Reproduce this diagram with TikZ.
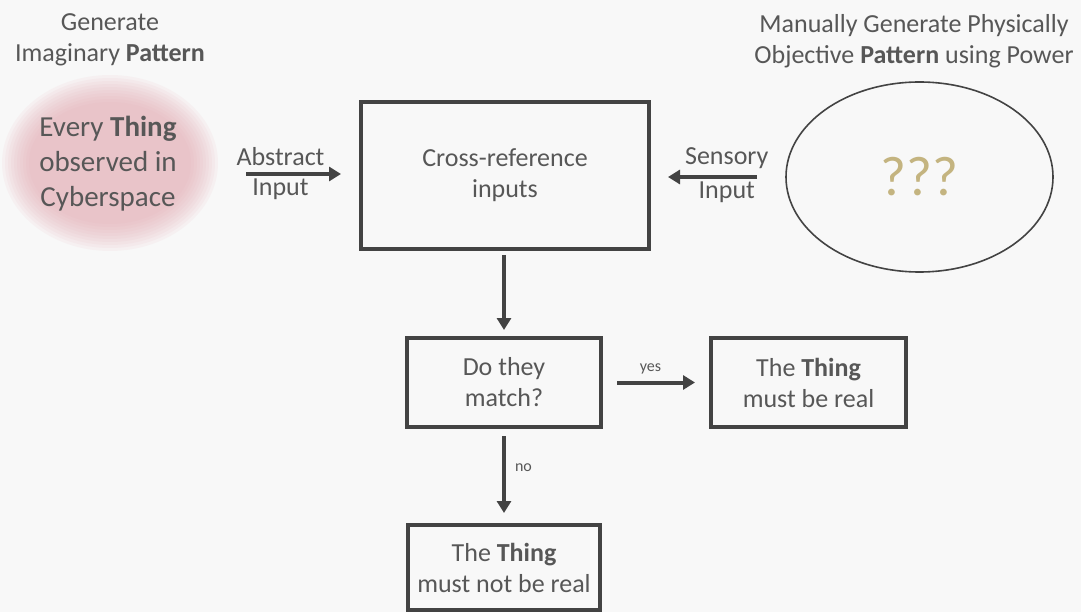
\documentclass[tikz,border=0pt]{standalone}
\usepackage{fontspec}
\setmainfont{Carlito}
\usetikzlibrary{arrows.meta,shapes.geometric}
\definecolor{txt}{HTML}{575757}
\definecolor{boxline}{HTML}{434343}
\definecolor{blobpink}{RGB}{228,168,176}
\definecolor{qcol}{RGB}{196,180,128}
\definecolor{bg}{RGB}{248,248,248}
\begin{document}
\begin{tikzpicture}[x=1pt,y=-1pt,
  every node/.style={text=txt, font=\fontsize{26}{31}\selectfont, inner sep=0pt, outer sep=0pt},
  flowbox/.style={draw=boxline, line width=3.5pt, align=center},
  arr/.style={draw=boxline, line width=4pt, -{Triangle[length=12pt,width=14pt]}},
  smalllabel/.style={font=\fontsize{16}{18}\selectfont}]
\fill[bg] (0,0) rectangle (1081,612);
\useasboundingbox (0,0) rectangle (1081,612);

% pink blob
\foreach \k in {0,...,9}
  \fill[blobpink, opacity=0.09] (110,163) ellipse [x radius={108pt-3pt*\k}, y radius={88pt-3pt*\k}];
\node[font=\fontsize{29}{35}\selectfont, align=center] (blob) at (108,164)
  {Every \textbf{Thing}\\observed in\\Cyberspace};

% titles
\node[align=center, anchor=north] (lefttitle) at (110,14) {Generate\\Imaginary \textbf{Pattern}};
\node[align=center, anchor=north] (righttitle) at (914,14) {Manually Generate Physically\\Objective \textbf{Pattern} using Power};

% ellipse
\node[ellipse, draw=boxline, line width=1.6pt, minimum width=267pt, minimum height=190pt,
      text=qcol, font=\fontsize{56}{60}\selectfont] (ell) at (919.5,177) {???};

% boxes
\node[flowbox, minimum width=288pt, minimum height=147pt] (crossbox) at (505,175.5) {Cross-reference\\inputs};
\node[flowbox, minimum width=194pt, minimum height=89pt] (matchbox) at (504,382.5) {Do they\\match?};
\node[flowbox, minimum width=195pt, minimum height=89pt] (realbox) at (808.5,382.5) {The \textbf{Thing}\\must be real};
\node[flowbox, minimum width=192pt, minimum height=85pt] (notbox) at (504,567.5) {The \textbf{Thing}\\must not be real};

% connectors
\coordinate (absStart) at (246,174);
\draw[arr, shorten >=20pt] (absStart) -- node[pos=0.30, above=8pt]{Abstract} node[pos=0.30, below=5pt]{Input} (absStart -| crossbox.west);
\coordinate (sensStart) at (757,177);
\draw[arr, shorten >=19pt] (sensStart) -- node[pos=0.28, above=8pt]{Sensory} node[pos=0.28, below=5pt]{Input} (sensStart -| crossbox.east);
\draw[arr, shorten <=6pt, shorten >=8pt] (matchbox.north |- crossbox.south) -- (matchbox.north);
\draw[arr, shorten <=16pt, shorten >=16pt] (matchbox.east) -- node[pos=0.45, above=8pt, smalllabel]{yes} (realbox.west);
\draw[arr, shorten <=9pt, shorten >=12pt] (matchbox.south) -- node[pos=0.41, right=11pt, smalllabel]{no} (matchbox.south |- notbox.north);
\end{tikzpicture}
\end{document}
